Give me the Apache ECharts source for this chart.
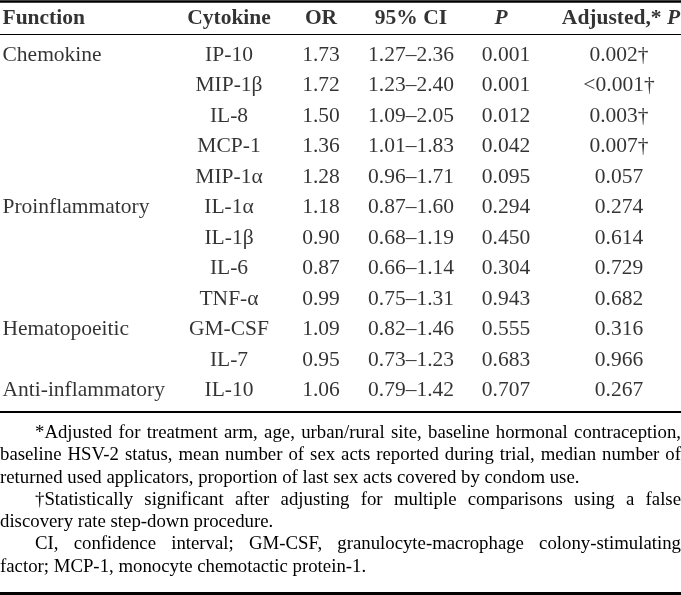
<!DOCTYPE html>
<html>
<head>
<meta charset="utf-8">
<script src="https://cdn.jsdelivr.net/npm/echarts@6/dist/echarts.min.js"></script>
<style>
html,body{margin:0;padding:0;background:#fff;}
#chart{width:681px;height:595px;}
</style>
</head>
<body>
<div id="chart"></div>
<script>
// ---------------- data ----------------
const headers = ['Function', 'Cytokine', 'OR', '95% CI', 'P', 'Adjusted,* P'];
const functions = ['Chemokine', '', '', '', '', 'Proinflammatory', '', '', '', 'Hematopoeitic', '', 'Anti-inflammatory'];
const cytokines = ['IP-10', 'MIP-1β', 'IL-8', 'MCP-1', 'MIP-1α', 'IL-1α', 'IL-1β', 'IL-6', 'TNF-α', 'GM-CSF', 'IL-7', 'IL-10'];
const oddsRatios = [1.73, 1.72, 1.50, 1.36, 1.28, 1.18, 0.90, 0.87, 0.99, 1.09, 0.95, 1.06];
const ciLow = [1.27, 1.23, 1.09, 1.01, 0.96, 0.87, 0.68, 0.66, 0.75, 0.82, 0.73, 0.79];
const ciHigh = [2.36, 2.40, 2.05, 1.83, 1.71, 1.60, 1.19, 1.14, 1.31, 1.46, 1.23, 1.42];
const pValues = [0.001, 0.001, 0.012, 0.042, 0.095, 0.294, 0.450, 0.304, 0.943, 0.555, 0.683, 0.707];
const adjustedP = ['0.002†', '<0.001†', '0.003†', '0.007†', '0.057', '0.274', '0.614', '0.729', '0.682', '0.316', '0.966', '0.267'];
const footnotes = [
  {text: '*Adjusted for treatment arm, age, urban/rural site, baseline hormonal contraception,', indent: true, justify: true},
  {text: 'baseline HSV-2 status, mean number of sex acts reported during trial, median number of', indent: false, justify: true},
  {text: 'returned used applicators, proportion of last sex acts covered by condom use.', indent: false, justify: false},
  {text: '†Statistically significant after adjusting for multiple comparisons using a false', indent: true, justify: true},
  {text: 'discovery rate step-down procedure.', indent: false, justify: false},
  {text: 'CI, confidence interval; GM-CSF, granulocyte-macrophage colony-stimulating', indent: true, justify: true},
  {text: 'factor; MCP-1, monocyte chemotactic protein-1.', indent: false, justify: false}
];

// ---------------- layout ----------------
const W = 681, H = 595;
const firstRowPx = 55, rowPitch = 30.5;
const pxToRow = px => (px - firstRowPx) / rowPitch;
const colX = [2, 229, 321, 411, 506, 619];
const headerX = [2, 229, 321, 411, 501, 621];
const headerRow = pxToRow(18);
const FONT = '"Liberation Serif", "Times New Roman", serif';
const cellSize = 21.5;
const noteSize = 18.8;

const fmt2 = v => v.toFixed(2);
const fmt3 = v => v.toFixed(3);

const columnTexts = [
  functions,
  cytokines,
  oddsRatios.map(fmt2),
  ciLow.map((l, i) => fmt2(l) + '–' + fmt2(ciHigh[i])),
  pValues.map(fmt3),
  adjustedP
];

const baseLabel = {
  show: true,
  color: '#000',
  fontFamily: FONT,
  fontSize: cellSize,
  formatter: p => p.value[2]
};

const series = columnTexts.map((texts, c) => ({
  type: 'scatter',
  symbolSize: 1,
  itemStyle: {color: 'rgba(0,0,0,0)'},
  silent: true,
  data: texts.map((t, r) => [colX[c], r, t]),
  label: Object.assign({}, baseLabel, c === 0
    ? {position: 'right', distance: 0, align: 'left'}
    : {position: 'inside', align: 'center'})
}));

// header row
series.push({
  type: 'scatter',
  symbolSize: 1,
  itemStyle: {color: 'rgba(0,0,0,0)'},
  silent: true,
  data: headers.map((h, c) => c === 0
    ? {value: [headerX[c], headerRow, h], label: {position: 'right', distance: 0, align: 'left'}}
    : {value: [headerX[c], headerRow, h]}),
  label: {
    show: true,
    color: '#000',
    fontFamily: FONT,
    fontSize: cellSize,
    fontWeight: 'bold',
    position: 'inside',
    formatter: p => {
      const h = String(p.value[2]);
      if (h === 'P') return '{bi|P}';
      if (h.endsWith(' P')) return '{b|' + h.slice(0, -2) + '} {bi|P}';
      return '{b|' + h + '}';
    },
    rich: {
      b: {fontFamily: FONT, fontSize: cellSize, fontWeight: 'bold', color: '#000'},
      bi: {fontFamily: FONT, fontSize: cellSize, fontWeight: 'bold', fontStyle: 'italic', color: '#000'}
    }
  },
  markLine: {
    silent: true,
    symbol: 'none',
    label: {show: false},
    data: [
      {yAxis: pxToRow(1.5), lineStyle: {color: '#000', width: 2.5, type: 'solid'}},
      {yAxis: pxToRow(34), lineStyle: {color: '#000', width: 1.2, type: 'solid'}},
      {yAxis: pxToRow(412), lineStyle: {color: '#000', width: 2, type: 'solid'}},
      {yAxis: pxToRow(593), lineStyle: {color: '#000', width: 3, type: 'solid'}}
    ]
  }
});

const chart = echarts.init(document.getElementById('chart'));

// footnotes, justified with measured word widths
const ctx = document.createElement('canvas').getContext('2d');
const noteFont = noteSize + 'px ' + FONT;
ctx.font = noteFont;
const graphics = [];
const noteTop = 433, notePitch = 22.3, indentPx = 35;
footnotes.forEach((f, i) => {
  const y = noteTop + i * notePitch;
  const x0 = f.indent ? indentPx : 0;
  if (!f.justify) {
    graphics.push({type: 'text', x: x0, y: y, silent: true,
      style: {text: f.text, font: noteFont, fill: '#000', align: 'left', verticalAlign: 'middle'}});
    return;
  }
  const words = f.text.split(' ');
  const widths = words.map(w => ctx.measureText(w).width);
  const total = widths.reduce((a, b) => a + b, 0);
  const gap = (W - x0 - total) / (words.length - 1);
  let x = x0;
  words.forEach((w, k) => {
    graphics.push({type: 'text', x: x, y: y, silent: true,
      style: {text: w, font: noteFont, fill: '#000', align: 'left', verticalAlign: 'middle'}});
    x += widths[k] + gap;
  });
});

chart.setOption({
  animation: false,
  backgroundColor: '#fff',
  grid: {left: 0, right: 0, top: 0, bottom: 0},
  xAxis: {type: 'value', min: 0, max: W, show: false},
  yAxis: {type: 'value', inverse: true, min: pxToRow(0), max: pxToRow(H), show: false},
  series: series,
  graphic: graphics
});
</script>
</body>
</html>
